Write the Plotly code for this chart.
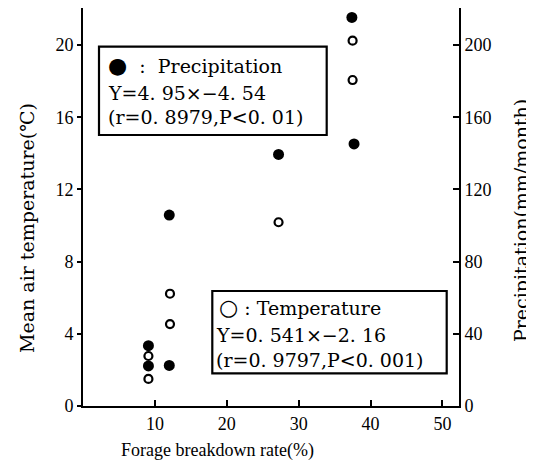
import plotly.graph_objects as go

# ---- data ----
precip_rate = [9.1, 9.1, 12.0, 12.0, 27.2, 37.4, 37.7]          # Forage breakdown rate (%)
precip_mm = [33.4, 22.2, 105.8, 22.5, 139.4, 215.3, 145.2]      # Precipitation (mm/month)
temp_rate = [9.1, 9.1, 12.1, 12.1, 27.2, 37.5, 37.5]            # Forage breakdown rate (%)
temp_c = [2.77, 1.50, 6.22, 4.54, 10.18, 20.24, 18.06]          # Mean air temperature (℃)
x_ticks = [10, 20, 30, 40, 50]
temp_ticks = [0, 4, 8, 12, 16, 20]
precip_ticks = [0, 40, 80, 120, 160, 200]

precip_lines = ["<span style='font-size:22px'>●</span>\u00a0\u00a0:\u00a0\u00a0Precipitation",
                "Y=4. 95×−4. 54", "(r=0. 8979,P<0. 01)"]
temp_lines = ["<span style='font-size:22px'>○</span>\u00a0:\u00a0Temperature",
              "Y=0. 541×−2. 16", "(r=0. 9797,P<0. 001)"]

# the page body has an 8px margin, so the figure is sized to fit the window
OFF = 8
W, H = 534 - OFF, 473 - OFF
ML, MR, MT, MB = 75, 75, 0, 67
PW, PH = W - ML - MR, H - MT - MB


def px(x):
    """page x pixel -> paper coordinate"""
    return (x - OFF - ML) / PW


def py(y):
    """page y pixel -> paper coordinate"""
    return (H - MB - (y - OFF)) / PH


SERIF = "DejaVu Serif, Liberation Serif, serif"
TICKF = dict(family="Liberation Serif, serif", size=18, color="black")

fig = go.Figure()
fig.add_trace(go.Scatter(
    x=temp_rate, y=temp_c, mode="markers", name="Temperature",
    marker=dict(symbol="circle-open", size=8, color="black", line=dict(width=2.2, color="black")),
    yaxis="y", showlegend=False))
fig.add_trace(go.Scatter(
    x=precip_rate, y=precip_mm, mode="markers", name="Precipitation",
    marker=dict(symbol="circle", size=11, color="black"),
    yaxis="y2", showlegend=False))

shapes = []
annotations = []
# legend boxes
for (x0, y0, x1, y1) in [(99, 46.7, 326.7, 135), (212.3, 291, 446.7, 373.3)]:
    shapes.append(dict(type="rect", xref="paper", yref="paper",
                       x0=px(x0), x1=px(x1), y0=py(y1), y1=py(y0),
                       line=dict(color="black", width=2.2), fillcolor="white", layer="above"))

for lines, xs, ys in [(precip_lines, [106, 106, 106], [65, 93, 117]),
                      (temp_lines, [217, 214, 214], [307, 335, 360])]:
    for t, xx, yy in zip(lines, xs, ys):
        annotations.append(dict(text=t, xref="paper", yref="paper", x=px(xx), y=py(yy),
                                xanchor="left", yanchor="middle", showarrow=False,
                                font=dict(family=SERIF, size=19, color="black")))

# axis titles
annotations.append(dict(text="Mean air temperature(℃)", xref="paper", yref="paper",
                        x=px(27), y=py(228), textangle=-90, showarrow=False,
                        xanchor="center", yanchor="middle",
                        font=dict(family=SERIF, size=19, color="black")))
annotations.append(dict(text="Precipitation(mm/month)", xref="paper", yref="paper",
                        x=px(521), y=py(221), textangle=-90, showarrow=False,
                        xanchor="center", yanchor="middle",
                        font=dict(family=SERIF, size=19, color="black")))
annotations.append(dict(text="Forage breakdown rate(%)", xref="paper", yref="paper",
                        x=px(217), y=py(450), showarrow=False,
                        xanchor="center", yanchor="middle",
                        font=dict(family="Liberation Serif, serif", size=18, color="black")))

YMAX = PH / 18.05
fig.update_layout(
    width=W, height=H,
    margin=dict(l=ML, r=MR, t=MT, b=MB),
    paper_bgcolor="white", plot_bgcolor="white",
    shapes=shapes, annotations=annotations,
    xaxis=dict(range=[0, 52.3], tickvals=x_ticks, ticks="inside", ticklen=6, tickwidth=1.5,
               tickcolor="black", showline=True, linecolor="black", linewidth=2,
               showgrid=False, zeroline=False, tickfont=TICKF, ticklabelstandoff=0),
    yaxis=dict(range=[0, YMAX], tickvals=temp_ticks, ticks="outside", ticklen=4, tickwidth=1.5,
               tickcolor="black", showline=True, linecolor="black", linewidth=2,
               showgrid=False, zeroline=False, tickfont=TICKF),
    yaxis2=dict(range=[0, YMAX * 10], tickvals=precip_ticks, ticks="inside", ticklen=6, tickwidth=1.5,
                tickcolor="black", showline=True, linecolor="black", linewidth=2,
                overlaying="y", side="right", anchor="x",
                showgrid=False, zeroline=False, tickfont=TICKF),
)

fig.write_html("out.html")
